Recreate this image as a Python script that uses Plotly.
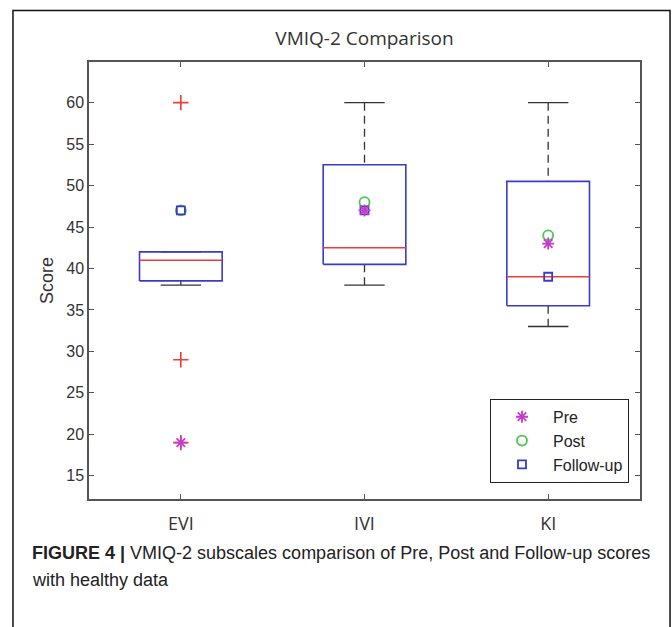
import plotly.graph_objects as go

# ---- data ----
categories = ["EVI", "IVI", "KI"]
q1 = [38.5, 40.5, 35.5]
medians = [41, 42.5, 39]
q3 = [42, 52.5, 50.5]
whisker_low = [38, 38, 33]
whisker_high = [42, 60, 60]
outlier_cat = ["EVI", "EVI", "EVI"]
outlier_val = [60, 29, 19]
pre = [19, 47, 43]
post = [47, 48, 44]
follow_up = [47, 47, 39]
y_ticks = [15, 20, 25, 30, 35, 40, 45, 50, 55, 60]

# ---- style ----
BOX_HW = 0.225
CAP_HW = 0.11
BLUE = "#3b3bc9"
RED = "#ee3b3b"
GREEN = "#4cc64c"
MAGENTA = "#c63cc6"

xpos = {c: i + 1 for i, c in enumerate(categories)}

fig = go.Figure()

# whiskers (dashed)
wx, wy = [], []
for c, lo, a, b, hi in zip(categories, whisker_low, q1, q3, whisker_high):
    x = xpos[c]
    wx += [x, x, None, x, x, None]
    wy += [hi, b, None, a, lo, None]
fig.add_trace(go.Scatter(x=wx, y=wy, mode="lines", showlegend=False, hoverinfo="skip",
                         line=dict(color="#333333", width=1.3, dash="8px,5px")))
# caps
cx, cy = [], []
for c, lo, hi in zip(categories, whisker_low, whisker_high):
    x = xpos[c]
    cx += [x - CAP_HW, x + CAP_HW, None, x - CAP_HW, x + CAP_HW, None]
    cy += [hi, hi, None, lo, lo, None]
fig.add_trace(go.Scatter(x=cx, y=cy, mode="lines", showlegend=False, hoverinfo="skip",
                         line=dict(color="#333333", width=1.3)))
# boxes
bx, by = [], []
for c, a, b in zip(categories, q1, q3):
    x = xpos[c]
    bx += [x - BOX_HW, x + BOX_HW, x + BOX_HW, x - BOX_HW, x - BOX_HW, None]
    by += [a, a, b, b, a, None]
fig.add_trace(go.Scatter(x=bx, y=by, mode="lines", showlegend=False, hoverinfo="skip",
                         line=dict(color=BLUE, width=1.6)))
# medians
mx, my = [], []
for c, m in zip(categories, medians):
    x = xpos[c]
    mx += [x - BOX_HW, x + BOX_HW, None]
    my += [m, m, None]
fig.add_trace(go.Scatter(x=mx, y=my, mode="lines", showlegend=False, hoverinfo="skip",
                         line=dict(color=RED, width=1.6)))
# outliers
fig.add_trace(go.Scatter(x=[xpos[c] for c in outlier_cat], y=outlier_val, mode="markers",
                         showlegend=False, hoverinfo="skip",
                         marker=dict(symbol="cross-thin-open", size=11, color=RED,
                                     line=dict(color=RED, width=1.6))))

xs = [xpos[c] for c in categories]
fig.add_trace(go.Scatter(x=xs, y=post, mode="markers", name="Post",
                         marker=dict(symbol="circle-open", size=10, color=GREEN,
                                     line=dict(color=GREEN, width=1.8))))
fig.add_trace(go.Scatter(x=xs, y=follow_up, mode="markers", name="Follow-up",
                         marker=dict(symbol="square-open", size=8, color=BLUE,
                                     line=dict(color=BLUE, width=1.8))))
fig.add_trace(go.Scatter(x=xs, y=pre, mode="markers", name="Pre",
                         marker=dict(symbol="asterisk-open", size=10, color=MAGENTA,
                                     line=dict(color=MAGENTA, width=1.8))))

# outer frame
fig.add_shape(type="path", xref="paper", yref="paper",
              path="M -0.138,-0.32 L -0.138,1.1178 L 1.0545,1.1178 L 1.0545,-0.32",
              line=dict(color="#111111", width=1.5))

CAP_FONT = dict(family="Liberation Sans Narrow, Arial Narrow, Liberation Sans", size=18,
                color="#222222")
fig.add_annotation(xref="paper", yref="paper", x=-0.1071, y=-0.1236, xanchor="left",
                   yanchor="middle", showarrow=False, align="left",
                   text="<b>FIGURE 4 |</b> VMIQ-2 subscales comparison of Pre, Post and Follow-up scores",
                   font=CAP_FONT)
fig.add_annotation(xref="paper", yref="paper", x=-0.1071, y=-0.1854, xanchor="left",
                   yanchor="middle", showarrow=False, align="left",
                   text="with healthy data", font=CAP_FONT)

fig.update_layout(
    width=672, height=627,
    margin=dict(l=89, r=32, t=62, b=128),
    paper_bgcolor="white", plot_bgcolor="white",
    title=dict(text="VMIQ-2 Comparison", x=0.5, xanchor="center", xref="paper",
               y=1 - 38 / 627, yanchor="middle",
               font=dict(family="Open Sans", size=19, color="#333333")),
    showlegend=True,
    legend=dict(x=0.98, y=0.037, xanchor="right", yanchor="bottom",
                bordercolor="#222222", borderwidth=1, bgcolor="white",
                traceorder="normal", itemwidth=52,
                font=dict(family="Liberation Sans", size=16, color="#222222")),
    xaxis=dict(range=[0.5, 3.5], tickvals=xs, ticktext=categories,
               ticks="inside", ticklen=5, tickcolor="#555555", mirror="allticks",
               showline=True, linecolor="#555555", linewidth=1.5, showgrid=False,
               zeroline=False, ticklabelstandoff=8,
               tickfont=dict(family="Open Sans", size=18, color="#333333")),
    yaxis=dict(range=[12.2, 64.9], tickvals=y_ticks,
               ticks="inside", ticklen=5, tickcolor="#555555", mirror="allticks",
               showline=True, linecolor="#555555", linewidth=1.5, showgrid=False,
               zeroline=False,
               tickfont=dict(family="Liberation Sans", size=16, color="#333333"),
               title=dict(text="Score", standoff=8,
                          font=dict(family="Liberation Sans", size=18, color="#333333"))),
)

# legend order Pre, Post, Follow-up
fig.data[7].legendrank = 1
fig.data[5].legendrank = 2
fig.data[6].legendrank = 3

fig.write_html("out.html")
